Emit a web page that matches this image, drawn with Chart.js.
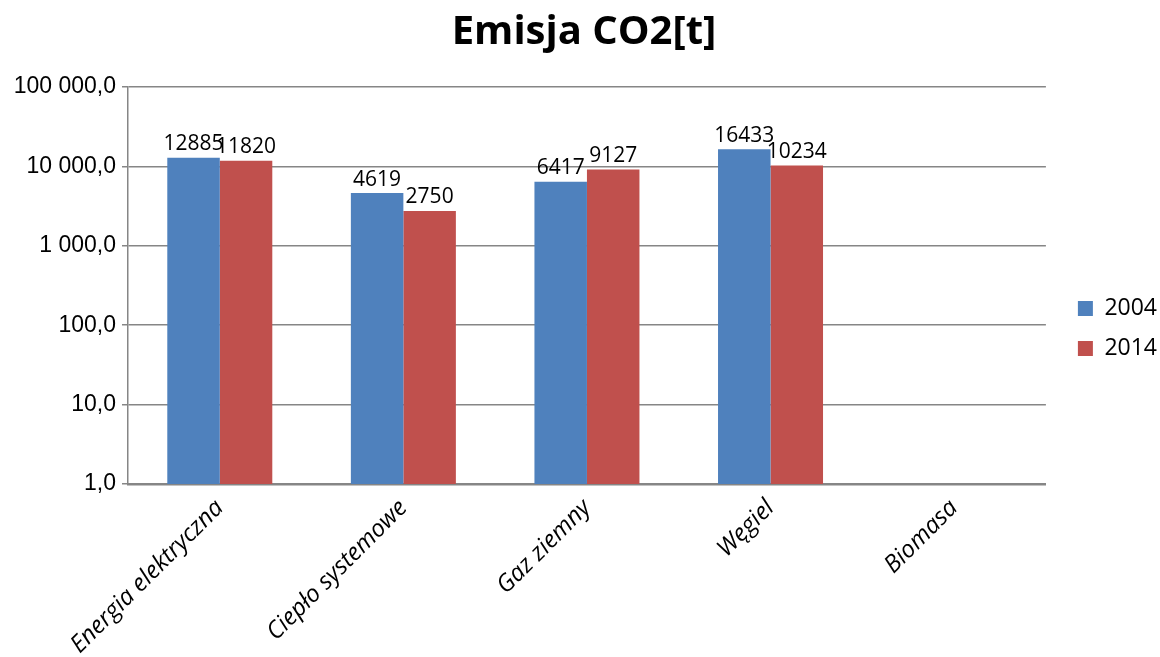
<!DOCTYPE html>
<html>
<head>
<meta charset="utf-8">
<script src="https://cdn.jsdelivr.net/npm/chart.js@4"></script>
<style>
html,body{margin:0;padding:0;background:#fff;}
#wrap{width:1160px;height:657px;position:relative;}
</style>
</head>
<body>
<div id="wrap"><canvas id="c" width="1160" height="657"></canvas></div>
<script>
const categories = ["Energia elektryczna", "Ciepło systemowe", "Gaz ziemny", "Węgiel", "Biomasa"];
const series2004 = [12885, 4619, 6417, 16433, null];
const series2014 = [11820, 2750, 9127, 10234, null];
const seriesNames = ["2004", "2014"];
const yTickValues = [1, 10, 100, 1000, 10000, 100000];
const chartTitle = "Emisja CO2[t]";

const fmt = v => {
  const s = Math.round(v).toString().replace(/\B(?=(\d{3})+(?!\d))/g, " ");
  return s + ",0";
};

const valueLabels = {
  id: 'valueLabels',
  afterDatasetsDraw(chart) {
    const ctx = chart.ctx;
    ctx.save();
    ctx.font = '21px "Open Sans"';
    ctx.fillStyle = '#000';
    ctx.textAlign = 'center';
    ctx.textBaseline = 'bottom';
    chart.data.datasets.forEach((ds, i) => {
      const meta = chart.getDatasetMeta(i);
      meta.data.forEach((bar, j) => {
        const v = ds.data[j];
        if (v == null) return;
        ctx.fillText(String(v), bar.x, bar.y - 3);
      });
    });
    ctx.restore();
  }
};

// widen the legend box and shift its items right, so the plot ends where the reference's does
const legendGap = {
  id: 'legendGap',
  beforeLayout(chart) {
    const lg = chart.legend;
    if (lg && !lg._gapPatched) {
      lg._gapPatched = true;
      const origFit = lg.fit;
      lg.fit = function () { origFit.call(this); this.width += 8; };
      const origDraw = lg.draw;
      lg.draw = function () {
        const ctx = this.ctx;
        ctx.save();
        ctx.translate(15, 0);
        origDraw.call(this);
        ctx.restore();
      };
    }
  }
};

new Chart(document.getElementById('c'), {
  type: 'bar',
  data: {
    labels: categories,
    datasets: [
      { label: seriesNames[0], data: series2004, backgroundColor: '#4F81BD', categoryPercentage: 0.572, barPercentage: 1.0 },
      { label: seriesNames[1], data: series2014, backgroundColor: '#C0504D', categoryPercentage: 0.572, barPercentage: 1.0 }
    ]
  },
  options: {
    responsive: false,
    animation: false,
    devicePixelRatio: 1,
    layout: { padding: { left: 8, right: 0, top: 0, bottom: 0 } },
    plugins: {
      title: {
        display: true,
        text: chartTitle,
        color: '#000',
        font: { family: '"Open Sans"', size: 40, weight: 'bold' },
        padding: { top: 9, bottom: 30 }
      },
      legend: {
        position: 'right',
        labels: {
          color: '#000',
          font: { family: '"Open Sans"', size: 23 },
          boxWidth: 15, boxHeight: 15,
          padding: 17
        }
      },
      tooltip: { enabled: false }
    },
    scales: {
      y: {
        type: 'logarithmic',
        min: 1, max: 100000,
        afterBuildTicks(scale) { scale.ticks = yTickValues.map(v => ({ value: v })); },
        afterFit(scale) { scale.width = 120; },
        ticks: {
          color: '#000',
          font: { family: '"Liberation Sans"', size: 23 },
          padding: 6,
          callback: v => fmt(v)
        },
        grid: { color: '#868686', lineWidth: 1.5, tickLength: 6, drawTicks: true },
        border: { color: '#868686', width: 1.5 }
      },
      x: {
        afterFit(scale) { scale.height = 173; },
        ticks: {
          color: '#000',
          font: { family: '"Open Sans"', size: 24, style: 'italic' },
          minRotation: 45, maxRotation: 45,
          padding: 2
        },
        grid: { display: false },
        border: { color: '#868686', width: 2.5 }
      }
    }
  },
  plugins: [valueLabels, legendGap]
});
</script>
</body>
</html>
